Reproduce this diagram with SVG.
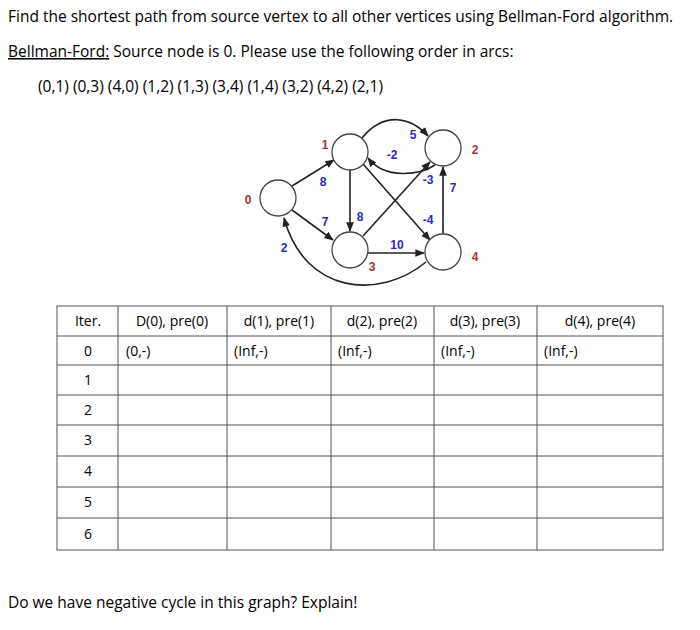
<svg xmlns="http://www.w3.org/2000/svg" width="700" height="630" viewBox="0 0 700 630">
<style>
text{font-family:"Open Sans","Liberation Sans",sans-serif;fill:#000}
.t{font-size:15.5px}
.c{font-size:14px;text-anchor:middle}
.d{font-size:14px}
.n{fill:#fff;stroke:#444;stroke-width:1.3}
.e{fill:none;stroke:#222;stroke-width:1.6;marker-end:url(#a)}
.w{font-family:"Liberation Sans",sans-serif;font-weight:bold;font-size:12px;fill:#2a2ac8;text-anchor:middle}
.l{font-family:"Liberation Sans",sans-serif;font-weight:bold;font-size:12px;fill:#a83232;text-anchor:middle}
.g{stroke:#555;stroke-width:1;fill:none}
</style>
<defs><marker id="a" viewBox="0 0 10 10" refX="9" refY="5" markerWidth="6" markerHeight="6" orient="auto"><path d="M0,1 L10,5 L0,9z" fill="#222"/></marker></defs>
<rect width="700" height="630" fill="#fff"/>
<text class="t" x="8" y="22">Find the shortest path from source vertex to all other vertices using Bellman-Ford algorithm.</text>
<text class="t" x="8" y="57"><tspan text-decoration="underline">Bellman-Ford:</tspan> Source node is 0. Please use the following order in arcs:</text>
<text class="t" x="38" y="92" font-size="16">(0,1) (0,3) (4,0) (1,2) (1,3) (3,4) (1,4) (3,2) (4,2) (2,1)</text>
<g id="connectors">
<path class="e" d="M292,186 L334,160"/>
<path class="e" d="M292,210 L333,240"/>
<path class="e" d="M426,262 C380,300 305,295 284,218"/>
<path class="e" d="M350,170 L350,231"/>
<path class="e" d="M362,138 C385,110 412,118 428,136"/>
<path class="e" d="M435,165 C420,175 385,180 368,158"/>
<path class="e" d="M363,236 L430,162"/>
<path class="e" d="M363,164 L430,240"/>
<path class="e" d="M368,253 L424,253"/>
<path class="e" d="M443,234 L443,167"/>
</g>
<g id="node0"><circle class="n" cx="278" cy="198" r="18"/><text class="l" x="248" y="204">0</text></g>
<g id="node1"><circle class="n" cx="350" cy="152" r="18"/><text class="l" x="325" y="149">1</text></g>
<g id="node2"><circle class="n" cx="443" cy="148" r="18"/><text class="l" x="475" y="154">2</text></g>
<g id="node3"><circle class="n" cx="350" cy="250" r="18"/><text class="l" x="372" y="271">3</text></g>
<g id="node4"><circle class="n" cx="443" cy="252" r="18"/><text class="l" x="475" y="261">4</text></g>
<g id="weights">
<text class="w" x="323" y="186">8</text>
<text class="w" x="325" y="226">7</text>
<text class="w" x="284" y="252">2</text>
<text class="w" x="360" y="221">8</text>
<text class="w" x="413" y="139">5</text>
<text class="w" x="392" y="159">-2</text>
<text class="w" x="428" y="184">-3</text>
<text class="w" x="453" y="192">7</text>
<text class="w" x="428" y="224">-4</text>
<text class="w" x="397" y="249">10</text>
</g>
<g id="table">
<rect class="g" x="57" y="306" width="606" height="244"/>
<path class="g" d="M118,306V550M227,306V550M331,306V550M434,306V550M537,306V550M57,336H663M57,365H663M57,395H663M57,425H663M57,456H663M57,487H663M57,518H663"/>
<text class="c" x="88" y="326">Iter.</text>
<text class="c" x="172" y="326">D(0), pre(0)</text>
<text class="c" x="279" y="326">d(1), pre(1)</text>
<text class="c" x="382" y="326">d(2), pre(2)</text>
<text class="c" x="485" y="326">d(3), pre(3)</text>
<text class="c" x="600" y="326">d(4), pre(4)</text>
<text class="c" x="88" y="356">0</text>
<text class="d" x="126" y="356">(0,-)</text>
<text class="d" x="234" y="356">(Inf,-)</text>
<text class="d" x="338" y="356">(Inf,-)</text>
<text class="d" x="441" y="356">(Inf,-)</text>
<text class="d" x="544" y="356">(Inf,-)</text>
<text class="c" x="88" y="385">1</text>
<text class="c" x="88" y="415">2</text>
<text class="c" x="88" y="445">3</text>
<text class="c" x="88" y="476">4</text>
<text class="c" x="88" y="507">5</text>
<text class="c" x="88" y="539">6</text>
</g>
<text class="t" x="8" y="608" font-size="14.5">Do we have negative cycle in this graph? Explain!</text>
</svg>
